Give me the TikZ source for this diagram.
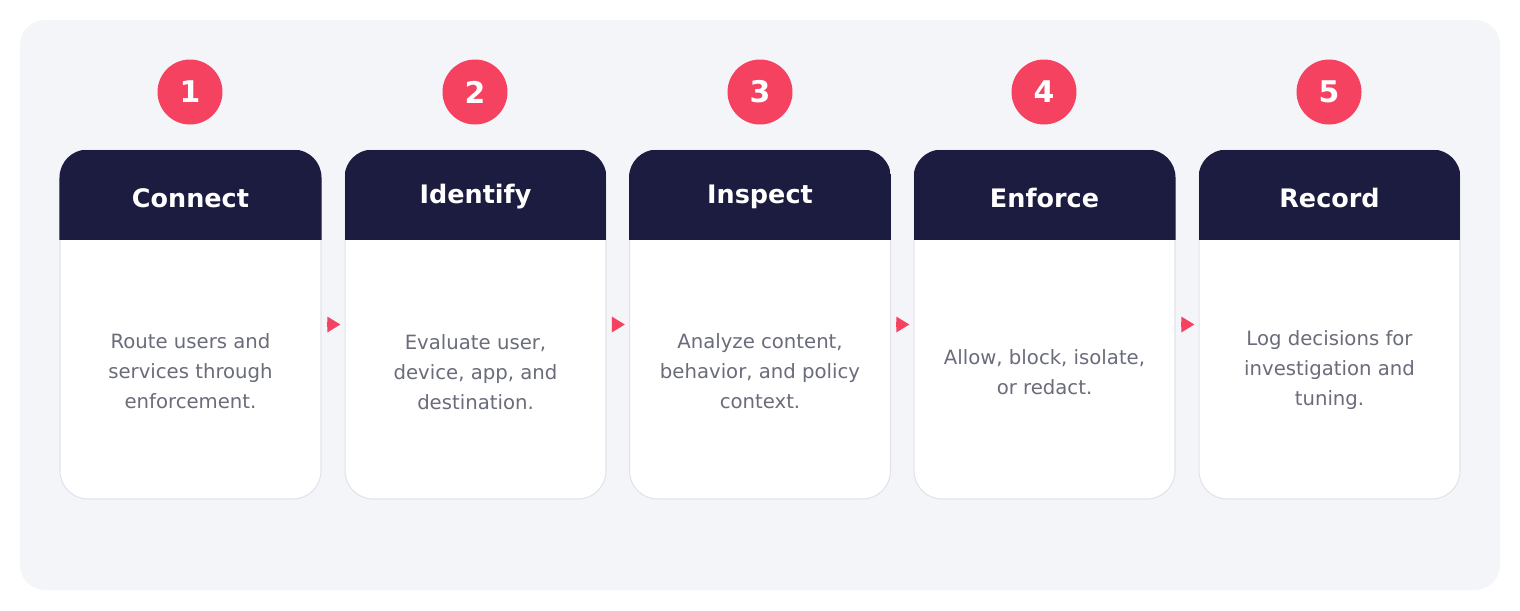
\documentclass[tikz,border=0pt]{standalone}
\usepackage{fontspec}
\setmainfont{DejaVu Sans}
\usepackage{tikz}
\usetikzlibrary{arrows.meta,positioning}
\usepackage{xcolor}
\definecolor{pnavy}{RGB}{28,28,64}
\definecolor{pred}{RGB}{244,66,96}
\definecolor{pgray}{RGB}{106,108,122}
\definecolor{ppanel}{RGB}{244,245,249}
\definecolor{pborder}{RGB}{226,227,234}
\tikzstyle{stepnum} = [circle, minimum size=1.3cm, inner sep=0pt, fill=pred, text=white, font=\bfseries\fontsize{17}{20}\selectfont]
\tikzstyle{cardbody} = [rectangle, rounded corners=0.56cm, minimum width=5.22cm, minimum height=6.98cm, draw=pborder, fill=white, line width=0.6pt]
\tikzstyle{cardtitle} = [text=white, font=\bfseries\fontsize{14.5}{17}\selectfont]
\tikzstyle{carddesc} = [text=pgray, align=center, font=\fontsize{11.2}{17}\selectfont]
\tikzstyle{flow} = [draw=pred, line width=2.6pt, -{Triangle[length=7.5pt,width=8.5pt]}]

\newcommand{\cardhead}[1]{%
  \begin{scope}
    \clip[rounded corners=0.56cm] (#1.south west) rectangle (#1.north east);
    \fill[pnavy] (#1.north west) rectangle ([yshift=-1.8cm]#1.north east);
  \end{scope}}

\begin{document}
\begin{tikzpicture}[x=0.02cm, y=-0.02cm]
\useasboundingbox (0,0) rectangle (1520,610);
% Panel
\fill[ppanel, rounded corners=0.5cm] (20,20) rectangle (1500,590);

% Cards
\node[cardbody] (card1) at (190.5,324.5) {};
\node[cardbody] (card2) at (475.5,324.5) {};
\node[cardbody] (card3) at (760,324.5) {};
\node[cardbody] (card4) at (1044.5,324.5) {};
\node[cardbody] (card5) at (1329.5,324.5) {};
\cardhead{card1}
\cardhead{card2}
\cardhead{card3}
\cardhead{card4}
\cardhead{card5}

% Step numbers
\node[stepnum] (num1) at (190,92) {1};
\node[stepnum] (num2) at (475,92) {2};
\node[stepnum] (num3) at (760,92) {3};
\node[stepnum] (num4) at (1044,92) {4};
\node[stepnum] (num5) at (1329,92) {5};

% Titles
\node[cardtitle] (title1) at (190.5,198) {Connect};
\node[cardtitle] (title2) at (475.5,197) {Identify};
\node[cardtitle] (title3) at (760,197) {Inspect};
\node[cardtitle] (title4) at (1044.5,198) {Enforce};
\node[cardtitle] (title5) at (1329.5,198) {Record};

% Descriptions
\node[carddesc] (desc1) at (190.5,371) {Route users and\\services through\\enforcement.};
\node[carddesc] (desc2) at (475.5,372) {Evaluate user,\\device, app, and\\destination.};
\node[carddesc] (desc3) at (760,371) {Analyze content,\\behavior, and policy\\context.};
\node[carddesc] (desc4) at (1044.5,372) {Allow, block, isolate,\\or redact.};
\node[carddesc] (desc5) at (1329.5,370) {Log decisions for\\investigation and\\tuning.};

% Arrows
\draw[flow] ([xshift=0.1cm]card1.east) -- ([xshift=-0.08cm]card2.west);
\draw[flow] ([xshift=0.1cm]card2.east) -- ([xshift=-0.08cm]card3.west);
\draw[flow] ([xshift=0.1cm]card3.east) -- ([xshift=-0.08cm]card4.west);
\draw[flow] ([xshift=0.1cm]card4.east) -- ([xshift=-0.08cm]card5.west);
\end{tikzpicture}
\end{document}
